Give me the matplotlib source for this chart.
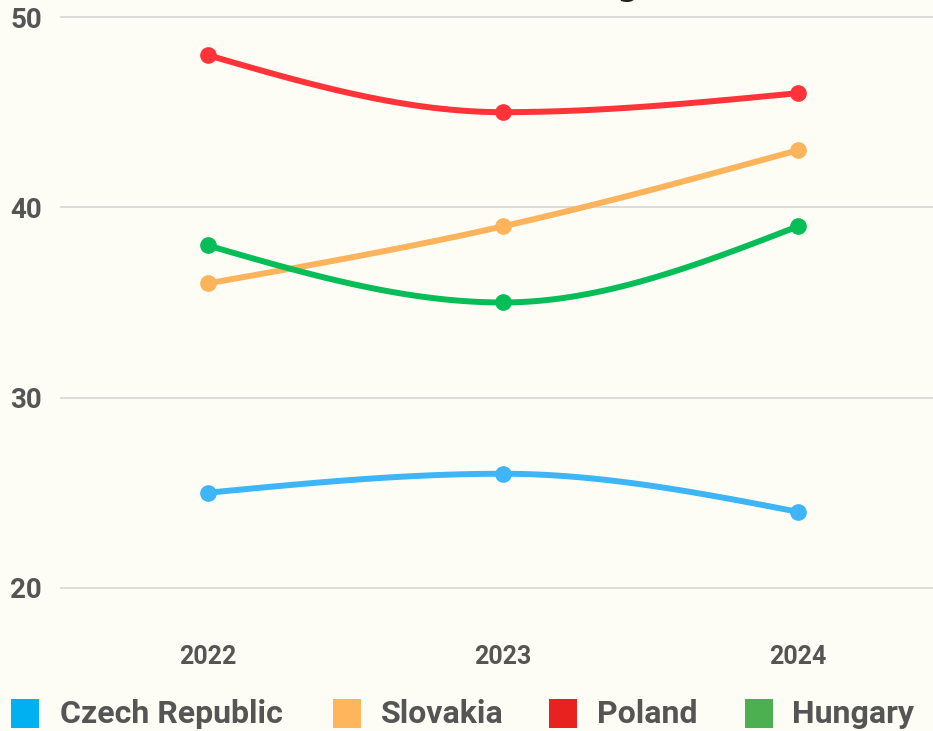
import numpy as np
import matplotlib
matplotlib.use("Agg")
import matplotlib.pyplot as plt
from matplotlib.patches import Rectangle

years = ["2022", "2023", "2024"]
countries = ["Czech Republic", "Slovakia", "Poland", "Hungary"]
czech = [25, 26, 24]
slovakia = [36, 39, 43]
poland = [48, 45, 46]
hungary = [38, 35, 39]
series = [czech, slovakia, poland, hungary]
line_colors = ["#3db5f7", "#fbb45c", "#ff3338", "#07bd57"]
legend_colors = ["#00b0f0", "#ffb55c", "#e8221e", "#4caf50"]
y_ticks = [20, 30, 40, 50]

BG = "#fdfdf5"
TXT = "#555555"
FONT = ["Roboto", "DejaVu Sans"]


def monotone_x(xs, ys, n=60):
    xs = np.asarray(xs, float)
    ys = np.asarray(ys, float)
    h = np.diff(xs)
    s = np.diff(ys) / h
    m = np.zeros(len(xs))
    for i in range(1, len(xs) - 1):
        p = (s[i - 1] * h[i] + s[i] * h[i - 1]) / (h[i - 1] + h[i])
        m[i] = (np.sign(s[i - 1]) + np.sign(s[i])) * min(abs(s[i - 1]), abs(s[i]), 0.5 * abs(p))
    m[0] = (3 * s[0] - m[1]) / 2
    m[-1] = (3 * s[-1] - m[-2]) / 2
    px, py = [], []
    for i in range(len(xs) - 1):
        t = np.linspace(0, 1, n)
        h00 = 2 * t**3 - 3 * t**2 + 1
        h10 = t**3 - 2 * t**2 + t
        h01 = -2 * t**3 + 3 * t**2
        h11 = t**3 - t**2
        px.extend(xs[i] + t * h[i])
        py.extend(h00 * ys[i] + h10 * h[i] * m[i] + h01 * ys[i + 1] + h11 * h[i] * m[i + 1])
    return np.array(px), np.array(py)


W, H = 933, 731
fig = plt.figure(figsize=(W / 100, H / 100), dpi=100, facecolor=BG)
ax = fig.add_axes([60 / W, (H - 626) / H, 885.5 / W, 618.5 / H])
ax.set_facecolor(BG)

xpos = np.arange(len(years))
for vals, col in zip(series, line_colors):
    cx, cy = monotone_x(xpos, vals)
    ax.plot(cx, cy, color=col, lw=4.3, solid_capstyle="round", zorder=3)
    ax.plot(xpos, vals, "o", color=col, ms=11, zorder=4)

ax.set_xlim(-0.5, 2.5)
ax.set_ylim(18, 50.5)
ax.set_xticks(xpos)
ax.set_xticklabels(years)
ax.set_yticks(y_ticks)
ax.grid(axis="y", color="#d9d9d9", lw=1.3)
ax.set_axisbelow(True)
for sp in ax.spines.values():
    sp.set_visible(False)
ax.tick_params(length=0)
ax.tick_params(axis="y", pad=13, labelsize=20, labelcolor=TXT)
ax.tick_params(axis="x", pad=14, labelsize=18, labelcolor=TXT)
for lab in ax.get_yticklabels() + ax.get_xticklabels():
    lab.set_fontfamily(FONT)
    lab.set_fontweight("bold")

# Title (mostly cut off at the top of the canvas)
fig.text(0.52, 1 + 6 / H, "(Percent of Total Savings Rate)", ha="center", va="baseline",
         fontsize=27, color="#222222", fontfamily="DejaVu Sans")

# Legend
sq_x = [11, 333, 549, 745]
tx_x = [60, 381, 597, 792]
for name, col, sx, tx in zip(countries, legend_colors, sq_x, tx_x):
    fig.patches.append(Rectangle((sx / W, (H - 728) / H), 28 / W, 29 / H,
                                 transform=fig.transFigure, facecolor=col, edgecolor="none"))
    fig.text(tx / W, (H - 714) / H, name, ha="left", va="center", fontsize=23,
             fontweight="bold", color=TXT, fontfamily=FONT)

fig.savefig("out.png", dpi=100, facecolor=BG)
